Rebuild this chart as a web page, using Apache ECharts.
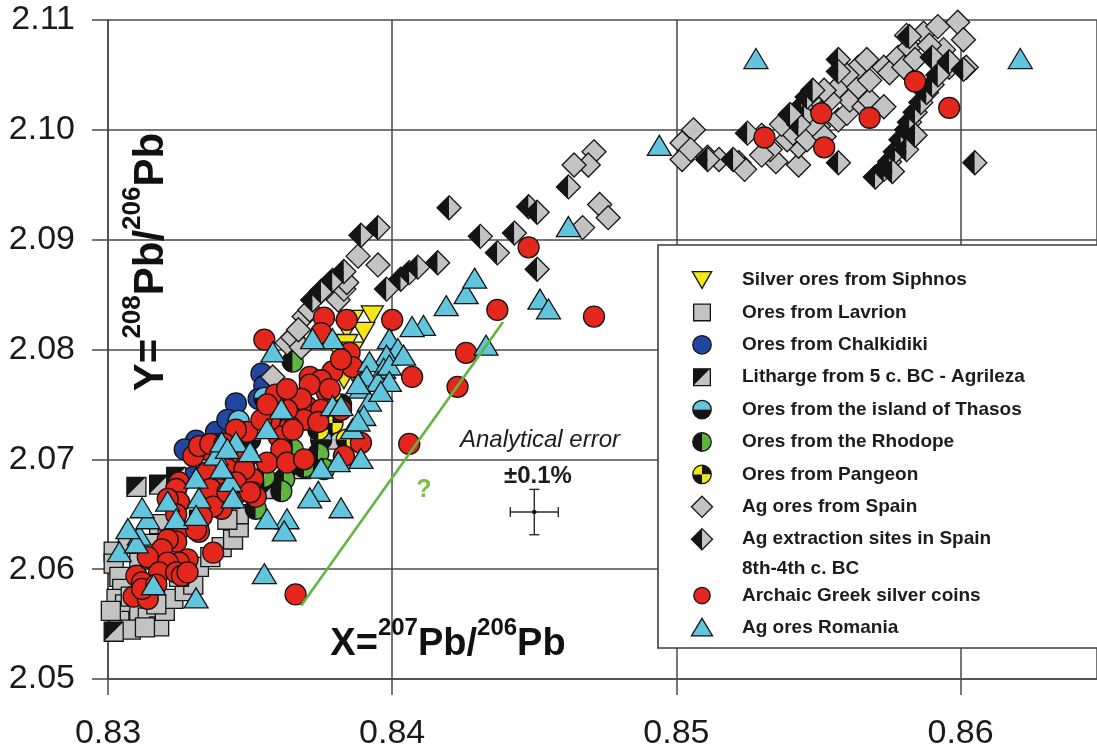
<!DOCTYPE html>
<html>
<head>
<meta charset="utf-8">
<script src="https://cdn.jsdelivr.net/npm/echarts@6/dist/echarts.min.js"></script>
<style>
  html, body { margin: 0; padding: 0; background: #ffffff; }
  #chart { width: 1097px; height: 751px; }
</style>
</head>
<body>
<div id="chart"></div>
<script>
// 207Pb/206Pb (x) and 208Pb/206Pb (y) ratios for each sample group
const siphnos = [
  [0.8393,2.0831],[0.8386,2.0827],[0.8390,2.0816],[0.8384,2.0818],[0.8382,2.0794],[0.8384,2.0805],
  [0.8386,2.0798],[0.8383,2.0773],[0.8378,2.0755],[0.8380,2.0736],[0.8376,2.0727],[0.8386,2.0780]
];
const lavrion = [
  [0.8302,2.0616],[0.8302,2.0605],[0.8304,2.0593],[0.8305,2.0582],[0.8303,2.0573],[0.8306,2.0568],
  [0.8308,2.0575],[0.8311,2.0562],[0.8314,2.0556],[0.8318,2.0548],[0.8320,2.0562],[0.8323,2.0573],
  [0.8327,2.0580],[0.8330,2.0586],[0.8325,2.0593],[0.8332,2.0602],[0.8336,2.0611],[0.8340,2.0620],
  [0.8344,2.0627],[0.8346,2.0638],[0.8346,2.0650],[0.8342,2.0645],[0.8318,2.0641],[0.8321,2.0627],
  [0.8315,2.0623],[0.8311,2.0609],[0.8307,2.0623],[0.8304,2.0553],[0.8308,2.0545],[0.8313,2.0547],
  [0.8301,2.0562],[0.8317,2.0568]
];
const chalkidiki = [
  [0.8354,2.0778],[0.8355,2.0767],[0.8345,2.0751],[0.8353,2.0755],[0.8331,2.0717],
  [0.8338,2.0725],[0.8342,2.0736],[0.8327,2.0709],[0.8339,2.0714],[0.8330,2.0684]
];
const litharge = [
  [0.8302,2.0543],[0.8310,2.0675],[0.8318,2.0677],[0.8324,2.0684],[0.8350,2.0691],[0.8343,2.0664],
  [0.8368,2.0691],[0.8364,2.0705],[0.8357,2.0673],[0.8332,2.0645],[0.8378,2.0718]
];
const thasos = [
  [0.8355,2.0756],[0.8346,2.0735],[0.8358,2.0738],[0.8368,2.0750],[0.8364,2.0759],[0.8375,2.0718],[0.8350,2.0718]
];
const rhodope = [
  [0.8365,2.0789],[0.8365,2.0709],[0.8369,2.0693],[0.8362,2.0682],[0.8361,2.0671],
  [0.8352,2.0655],[0.8355,2.0684],[0.8374,2.0705],[0.8376,2.0691]
];
const pangeon = [
  [0.8379,2.0733],[0.8382,2.0750],[0.8374,2.0727],[0.8384,2.0718]
];
const spainOres = [
  [0.8358,2.0775],[0.8363,2.0806],[0.8365,2.0811],[0.8368,2.0802],[0.8369,2.0830],[0.8371,2.0836],
  [0.8381,2.0845],[0.8383,2.0855],[0.8384,2.0861],[0.8388,2.0885],[0.8395,2.0877],[0.8367,2.0818],
  [0.8471,2.0980],[0.8469,2.0968],[0.8464,2.0968],[0.8473,2.0932],[0.8476,2.0920],[0.8467,2.0911],
  [0.8502,2.0988],[0.8506,2.1000],[0.8502,2.0973],[0.8511,2.0975],[0.8522,2.0970],[0.8524,2.0964],
  [0.8535,2.0971],[0.8543,2.0968],[0.8543,2.0985],[0.8539,2.0991],[0.8541,2.0997],[0.8546,2.0991],
  [0.8550,2.1003],[0.8552,2.0994],[0.8557,2.1009],[0.8560,2.1015],[0.8561,2.1027],[0.8557,2.1039],
  [0.8564,2.1039],[0.8566,2.1021],[0.8568,2.1027],[0.8573,2.1021],[0.8568,2.1045],[0.8564,2.1057],
  [0.8573,2.1057],[0.8575,2.1052],[0.8578,2.1066],[0.8580,2.1057],[0.8582,2.1075],[0.8587,2.1088],
  [0.8592,2.1094],[0.8594,2.1073],[0.8596,2.1057],[0.8599,2.1098],[0.8601,2.1082],[0.8602,2.1057],
  [0.8554,2.1027],[0.8550,2.1018],[0.8548,2.1005],[0.8544,2.1011],[0.8533,2.0982],[0.8530,2.0995],
  [0.8537,2.1005],[0.8560,2.1050],[0.8567,2.1064],[0.8552,2.1036],[0.8547,2.1027],[0.8581,2.1086],
  [0.8589,2.1077],[0.8584,2.1064],[0.8530,2.0977],[0.8515,2.0973],[0.8505,2.0982]
];
const spainSites = [
  [0.8372,2.0845],[0.8375,2.0853],[0.8379,2.0863],[0.8383,2.0871],[0.8389,2.0904],[0.8395,2.0911],
  [0.8398,2.0855],[0.8403,2.0864],[0.8406,2.0870],[0.8409,2.0875],[0.8416,2.0879],[0.8420,2.0929],
  [0.8431,2.0903],[0.8437,2.0888],[0.8443,2.0906],[0.8448,2.0930],[0.8451,2.0925],[0.8451,2.0873],
  [0.8462,2.0948],
  [0.8511,2.0973],[0.8520,2.0973],[0.8525,2.0997],[0.8544,2.1021],[0.8545,2.1012],[0.8546,2.1030],
  [0.8548,2.1036],[0.8543,2.1005],[0.8557,2.1064],[0.8557,2.1053],[0.8557,2.0970],[0.8582,2.1085],
  [0.8590,2.1066],[0.8596,2.1062],[0.8601,2.1055],[0.8605,2.0970],[0.8570,2.0957],[0.8573,2.0964],
  [0.8575,2.0971],[0.8577,2.0980],[0.8579,2.0991],[0.8581,2.1000],[0.8582,2.1007],[0.8584,2.1016],
  [0.8586,2.1025],[0.8588,2.1034],[0.8590,2.1041],[0.8592,2.1050],[0.8576,2.0962],[0.8581,2.0982],
  [0.8584,2.0995],[0.8540,2.1014]
];
const coins = [
  [0.8366,2.0577],[0.8406,2.0714],[0.8423,2.0766],[0.8426,2.0797],[0.8437,2.0836],[0.8448,2.0893],
  [0.8471,2.0830],[0.8400,2.0827],[0.8407,2.0775],[0.8389,2.0715],[0.8383,2.0703],[0.8355,2.0809],
  [0.8376,2.0829],[0.8384,2.0827],[0.8375,2.0815],[0.8385,2.0797],[0.8386,2.0784],[0.8379,2.0780],
  [0.8371,2.0775],[0.8375,2.0772],[0.8377,2.0761],[0.8371,2.0768],[0.8370,2.0748],[0.8375,2.0745],
  [0.8369,2.0736],[0.8374,2.0734],[0.8364,2.0730],[0.8360,2.0721],[0.8368,2.0755],[0.8363,2.0745],
  [0.8365,2.0727],[0.8361,2.0709],[0.8356,2.0697],[0.8349,2.0725],[0.8349,2.0703],[0.8342,2.0697],
  [0.8335,2.0709],[0.8330,2.0703],[0.8325,2.0679],[0.8337,2.0679],[0.8344,2.0679],[0.8351,2.0682],
  [0.8363,2.0697],[0.8369,2.0700],[0.8332,2.0712],[0.8336,2.0714],[0.8335,2.0688],[0.8342,2.0691],
  [0.8348,2.0691],[0.8351,2.0670],[0.8346,2.0670],[0.8339,2.0673],[0.8336,2.0673],[0.8324,2.0673],
  [0.8325,2.0661],[0.8321,2.0664],[0.8340,2.0655],[0.8337,2.0657],[0.8333,2.0648],[0.8332,2.0634],
  [0.8325,2.0636],[0.8324,2.0625],[0.8321,2.0627],[0.8319,2.0618],[0.8337,2.0615],[0.8328,2.0609],
  [0.8325,2.0606],[0.8321,2.0606],[0.8314,2.0611],[0.8318,2.0597],[0.8324,2.0597],[0.8326,2.0594],
  [0.8310,2.0594],[0.8312,2.0588],[0.8309,2.0575],[0.8314,2.0573],[0.8312,2.0582],[0.8328,2.0597],
  [0.8352,2.0666],[0.8345,2.0679],[0.8342,2.0670],[0.8350,2.0670],[0.8378,2.0764],[0.8382,2.0745],
  [0.8357,2.0736],[0.8382,2.0791],[0.8345,2.0727],[0.8341,2.0714],[0.8354,2.0736],[0.8359,2.0759],
  [0.8363,2.0764],[0.8356,2.0750],[0.8324,2.0650],[0.8331,2.0636],[0.8317,2.0586],
  [0.8531,2.0993],[0.8551,2.1015],[0.8552,2.0984],[0.8568,2.1011],[0.8584,2.1044],[0.8596,2.1020]
];
const romania = [
  [0.8528,2.1064],[0.8621,2.1064],[0.8494,2.0985],[0.8462,2.0911],[0.8452,2.0845],[0.8455,2.0836],
  [0.8433,2.0803],[0.8419,2.0839],[0.8426,2.0850],[0.8429,2.0864],[0.8411,2.0821],[0.8407,2.0820],
  [0.8399,2.0809],[0.8402,2.0800],[0.8398,2.0794],[0.8392,2.0788],[0.8397,2.0782],[0.8391,2.0775],
  [0.8395,2.0770],[0.8389,2.0764],[0.8392,2.0752],[0.8390,2.0739],[0.8386,2.0727],[0.8388,2.0734],
  [0.8379,2.0809],[0.8372,2.0809],[0.8358,2.0797],[0.8361,2.0745],[0.8356,2.0727],[0.8345,2.0715],
  [0.8338,2.0703],[0.8331,2.0682],[0.8350,2.0706],[0.8340,2.0715],[0.8379,2.0748],[0.8382,2.0748],
  [0.8374,2.0670],[0.8381,2.0697],[0.8389,2.0700],[0.8343,2.0679],[0.8375,2.0691],[0.8371,2.0664],
  [0.8382,2.0655],[0.8363,2.0645],[0.8362,2.0634],[0.8355,2.0595],[0.8331,2.0573],[0.8316,2.0585],
  [0.8304,2.0615],[0.8311,2.0630],[0.8314,2.0645],[0.8312,2.0655],[0.8321,2.0661],[0.8332,2.0664],
  [0.8344,2.0664],[0.8324,2.0645],[0.8331,2.0648],[0.8342,2.0709],[0.8340,2.0691],[0.8356,2.0645],
  [0.8399,2.0785],[0.8399,2.0770],[0.8396,2.0761],[0.8404,2.0794],[0.8388,2.0768],[0.8310,2.0623],
  [0.8307,2.0636]
];

// trend line marked with a question mark
const trendLine = [[0.8368, 2.0567], [0.8439, 2.0825]];
// analytical error cross: centre point and relative error (±0.1 %)
const errorCentre = [[0.8450, 2.0652]];
const errorRel = 0.001;

const xTickLabels = ['0.83', '0.84', '0.85', '0.86'];
const yTickLabels = ['2.05', '2.06', '2.07', '2.08', '2.09', '2.10', '2.11'];

const INK = '#141414', GRAY = '#c3c3c3', YELLOW = '#f5e617', BLUE = '#22469f',
      LBLUE = '#62c5de', GREEN = '#5db43e', RED = '#e4271d';

const groups = [
  { name: 'Silver ores from Siphnos', data: siphnos, marker: 'triDown' },
  { name: 'Ores from Lavrion', data: lavrion, marker: 'square' },
  { name: 'Ores from Chalkidiki', data: chalkidiki, marker: 'blueCircle' },
  { name: 'Litharge from 5 c. BC - Agrileza', data: litharge, marker: 'splitSquare' },
  { name: 'Ores from the island of Thasos', data: thasos, marker: 'halfTop' },
  { name: 'Ores from the Rhodope', data: rhodope, marker: 'halfSide' },
  { name: 'Ores from Pangeon', data: pangeon, marker: 'quarters' },
  { name: 'Ag ores from Spain', data: spainOres, marker: 'diamond' },
  { name: 'Ag extraction sites in Spain\n8th-4th c. BC', data: spainSites, marker: 'splitDiamond' },
  { name: 'Archaic Greek silver coins', data: coins, marker: 'coin' },
  { name: 'Ag ores Romania', data: romania, marker: 'triUp' }
];

// Build the shapes of one marker centred at (cx, cy), scaled by k; z is applied to every part
function markerParts(kind, cx, cy, k, z) {
  const edge = { stroke: INK, lineWidth: 1.3 };
  const zz = z == null ? {} : { z: z };
  const poly = (pts, fill, st) => Object.assign({ type: 'polygon', shape: { points: pts }, style: Object.assign({ fill: fill }, st || {}) }, zz);
  const sector = (r, a0, a1, fill) => Object.assign({ type: 'sector', shape: { cx: cx, cy: cy, r0: 0, r: r, startAngle: a0, endAngle: a1 }, style: { fill: fill } }, zz);
  const ring = (r, fill) => Object.assign({ type: 'circle', shape: { cx: cx, cy: cy, r: r }, style: Object.assign({ fill: fill || 'none' }, edge) }, zz);
  const box = (a, fill) => Object.assign({ type: 'rect', shape: { x: cx - a, y: cy - a, width: 2 * a, height: 2 * a }, style: Object.assign({ fill: fill }, edge) }, zz);
  const P = Math.PI;
  switch (kind) {
    case 'triDown': {
      const w = 11 * k, h = 9.5 * k;
      return [poly([[cx - w, cy - h], [cx + w, cy - h], [cx, cy + h]], YELLOW, edge)];
    }
    case 'triUp': {
      const w = 12 * k, h = 10 * k;
      return [poly([[cx, cy - h - k], [cx + w, cy + h - k], [cx - w, cy + h - k]], LBLUE, edge)];
    }
    case 'square':
      return [box(9.5 * k, GRAY)];
    case 'splitSquare': {
      const a = 9.5 * k;
      return [
        poly([[cx - a, cy - a], [cx + a, cy - a], [cx - a, cy + a]], INK),
        poly([[cx + a, cy - a], [cx + a, cy + a], [cx - a, cy + a]], GRAY),
        box(a, 'none')
      ];
    }
    case 'blueCircle':
      return [ring(10.5 * k, BLUE)];
    case 'coin':
      return [ring(10.5 * k, RED)];
    case 'halfTop': {
      const r = 10.5 * k;
      return [sector(r, P, 2 * P, LBLUE), sector(r, 0, P, INK), ring(r)];
    }
    case 'halfSide': {
      const r = 10.5 * k;
      return [sector(r, P / 2, 3 * P / 2, INK), sector(r, -P / 2, P / 2, GREEN), ring(r)];
    }
    case 'quarters': {
      const r = 10.5 * k;
      return [
        sector(r, P, 3 * P / 2, YELLOW), sector(r, 3 * P / 2, 2 * P, INK),
        sector(r, 0, P / 2, YELLOW), sector(r, P / 2, P, INK), ring(r)
      ];
    }
    case 'diamond': {
      const a = 12 * k;
      return [poly([[cx, cy - a], [cx + a, cy], [cx, cy + a], [cx - a, cy]], GRAY, edge)];
    }
    case 'splitDiamond': {
      const a = 12 * k;
      return [
        poly([[cx, cy - a], [cx, cy + a], [cx - a, cy]], INK),
        poly([[cx, cy - a], [cx + a, cy], [cx, cy + a]], GRAY),
        poly([[cx, cy - a], [cx + a, cy], [cx, cy + a], [cx - a, cy]], 'none', edge)
      ];
    }
  }
  return [];
}

const markerSeries = groups.map(g => ({
  type: 'custom',
  name: g.name,
  data: g.data,
  z: 3,
  renderItem: function (params, api) {
    const p = api.coord([api.value(0), api.value(1)]);
    return { type: 'group', children: markerParts(g.marker, p[0], p[1], 1) };
  }
}));

// Legend panel drawn with the same marker shapes
const legendElems = [{
  type: 'rect', z: 100,
  shape: { x: 658, y: 245, width: 460, height: 403 },
  style: { fill: '#ffffff', stroke: '#3c3c3c', lineWidth: 1.6 }
}];
let rowY = 280;
groups.forEach(g => {
  const k = g.marker === 'coin' ? 0.78 : 0.88;
  markerParts(g.marker, 702, rowY, k, 102).forEach(el => legendElems.push(el));
  const lines = g.name.split('\n');
  lines.forEach((t, j) => {
    legendElems.push({
      type: 'text', z: 102, x: 742, y: rowY + j * 30,
      style: { text: t, font: 'bold 19px "Liberation Sans", Arial, sans-serif', fill: '#1c1c1c', align: 'left', verticalAlign: 'middle' }
    });
  });
  rowY += 32.4 + (lines.length - 1) * 24;
});

function titleRich(main, sup) {
  return {
    a: { font: 'bold ' + main + 'px "Liberation Sans", Arial, sans-serif', fill: '#111', lineHeight: main * 1.25, verticalAlign: 'bottom' },
    s: { font: 'bold ' + sup + 'px "Liberation Sans", Arial, sans-serif', fill: '#111', lineHeight: main * 1.25, verticalAlign: 'top' }
  };
}

const option = {
  animation: false,
  backgroundColor: '#ffffff',
  grid: { left: 108, right: 0, top: 20, bottom: 71, containLabel: false },
  xAxis: {
    type: 'value', min: 0.83, max: 0.8648, interval: 0.01,
    axisLine: { show: true, onZero: false, lineStyle: { color: '#4a4a4a', width: 1.6 } },
    axisTick: { show: true, length: 16, lineStyle: { color: '#4a4a4a', width: 1.5 } },
    axisLabel: {
      margin: 38, fontSize: 34, color: '#1a1a1a', fontFamily: '"Liberation Sans", Arial, sans-serif',
      showMaxLabel: false,
      formatter: v => xTickLabels.find(t => Math.abs(parseFloat(t) - v) < 1e-6) || ''
    },
    splitLine: { show: true, lineStyle: { color: '#4a4a4a', width: 1.5 } }
  },
  yAxis: {
    type: 'value', min: 2.05, max: 2.11, interval: 0.01,
    axisLine: { show: true, onZero: false, lineStyle: { color: '#4a4a4a', width: 1.6 } },
    axisTick: { show: true, length: 16, lineStyle: { color: '#4a4a4a', width: 1.5 } },
    axisLabel: {
      margin: 33, fontSize: 34, color: '#1a1a1a', fontFamily: '"Liberation Sans", Arial, sans-serif',
      formatter: v => yTickLabels.find(t => Math.abs(parseFloat(t) - v) < 1e-6) || ''
    },
    splitLine: { show: true, lineStyle: { color: '#4a4a4a', width: 1.5 } }
  },
  series: markerSeries.concat([
    {
      type: 'line', name: 'trend', data: trendLine, symbol: 'none', z: 4,
      lineStyle: { color: '#62b63f', width: 2.6 }
    },
    {
      type: 'custom', name: 'error', data: errorCentre, z: 4,
      renderItem: function (params, api) {
        const x = api.value(0), y = api.value(1);
        const c = api.coord([x, y]);
        const l = api.coord([x * (1 - errorRel), y]), r = api.coord([x * (1 + errorRel), y]);
        const t = api.coord([x, y * (1 + errorRel)]), b = api.coord([x, y * (1 - errorRel)]);
        const st = { stroke: '#2a2a2a', lineWidth: 1.4 };
        const seg = (x1, y1, x2, y2) => ({ type: 'line', shape: { x1: x1, y1: y1, x2: x2, y2: y2 }, style: st });
        return {
          type: 'group', children: [
            seg(l[0], c[1], r[0], c[1]), seg(c[0], t[1], c[0], b[1]),
            seg(l[0], c[1] - 5, l[0], c[1] + 5), seg(r[0], c[1] - 5, r[0], c[1] + 5),
            seg(c[0] - 5, t[1], c[0] + 5, t[1]), seg(c[0] - 5, b[1], c[0] + 5, b[1]),
            { type: 'circle', shape: { cx: c[0], cy: c[1], r: 2.2 }, style: { fill: '#111' } }
          ]
        };
      }
    }
  ]),
  graphic: [
    {
      type: 'text', z: 50, x: 146, y: 262, rotation: Math.PI / 2,
      style: { text: '{a|Y=}{s|208}{a|Pb/}{s|206}{a|Pb}', rich: titleRich(42, 26), align: 'center', verticalAlign: 'middle' }
    },
    {
      type: 'text', z: 50, x: 448, y: 640,
      style: { text: '{a|X=}{s|207}{a|Pb/}{s|206}{a|Pb}', rich: titleRich(38, 24), align: 'center', verticalAlign: 'middle' }
    },
    {
      type: 'text', z: 50, x: 424, y: 490,
      style: { text: '?', font: 'bold 25px "Liberation Sans", Arial, sans-serif', fill: '#7dbd46', align: 'center', verticalAlign: 'middle' }
    },
    {
      type: 'text', z: 50, x: 540, y: 440,
      style: { text: 'Analytical error', font: 'italic 24px "Liberation Sans", Arial, sans-serif', fill: '#1c1c1c', align: 'center', verticalAlign: 'middle' }
    },
    {
      type: 'text', z: 50, x: 538, y: 476,
      style: { text: '±0.1%', font: 'bold 24px "Liberation Sans", Arial, sans-serif', fill: '#1c1c1c', align: 'center', verticalAlign: 'middle' }
    }
  ].concat(legendElems)
};

const chart = echarts.init(document.getElementById('chart'), null, { renderer: 'canvas' });
chart.setOption(option);
</script>
</body>
</html>
